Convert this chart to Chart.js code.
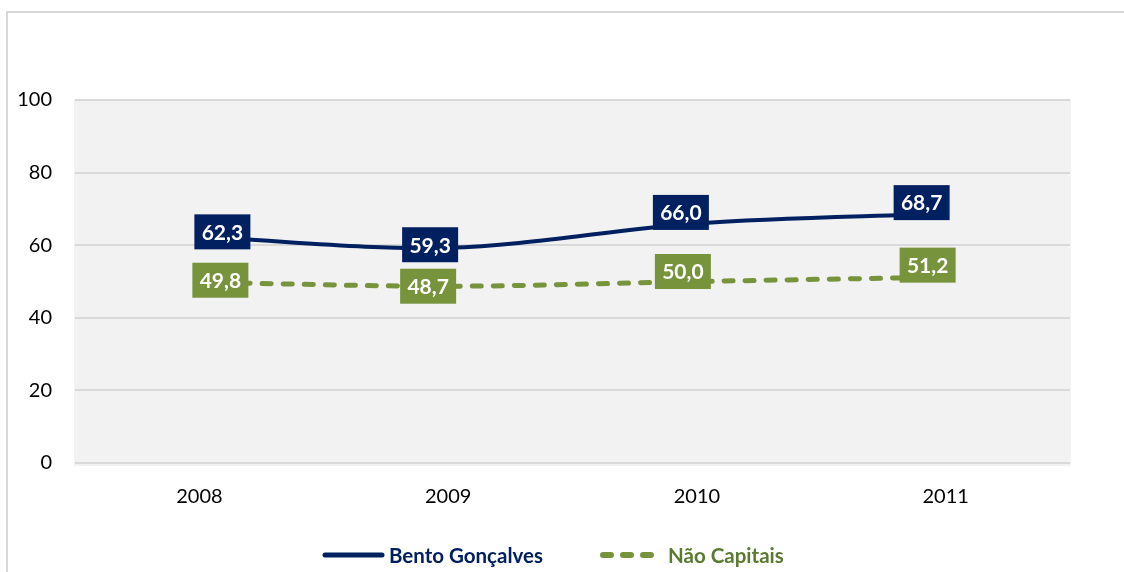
<!DOCTYPE html>
<html>
<head>
<meta charset="utf-8">
<script src="https://cdn.jsdelivr.net/npm/chart.js@4/dist/chart.umd.min.js"></script>
<style>
    html, body { margin: 0; padding: 0; background: #ffffff; }
    #chart { display: block; }
</style>
</head>
<body>
<canvas id="chart" width="1124" height="572"></canvas>
<script>
const years = ['2008', '2009', '2010', '2011'];
const bentoGoncalves = [62.3, 59.3, 66.0, 68.7];
const naoCapitais = [49.8, 48.7, 50.0, 51.2];
const seriesNames = ['Bento Gonçalves', 'Não Capitais'];

// where each value box sits relative to its point (as placed in the original)
const bentoShift = [[23, -5], [-18, -3], [-16, -11], [-24, -11]];
const naoShift = [[21, -2], [-20, 0], [-14, -10], [-18, -12]];

const navy = '#002060';
const olive = '#77933C';
const fontFamily = 'Lato, "Open Sans", sans-serif';

const frame = {
    id: 'frame',
    beforeDraw(chart) {
        const ctx = chart.ctx;
        const a = chart.chartArea;
        ctx.save();
        ctx.strokeStyle = '#D9D9D9';
        ctx.lineWidth = 2;
        ctx.beginPath();
        ctx.moveTo(7, 572);
        ctx.lineTo(7, 12);
        ctx.lineTo(1124, 12);
        ctx.stroke();
        ctx.fillStyle = '#F2F2F2';
        ctx.fillRect(a.left - 1, a.top - 1, a.right - a.left + 2, a.bottom - a.top + 4);
        ctx.restore();
    }
};

const valueBoxes = {
    id: 'valueBoxes',
    afterDatasetsDraw(chart) {
        const ctx = chart.ctx;
        const shifts = [bentoShift, naoShift];
        ctx.save();
        ctx.font = 'bold 21px ' + fontFamily;
        ctx.textAlign = 'center';
        ctx.textBaseline = 'middle';
        chart.data.datasets.forEach((ds, i) => {
            const meta = chart.getDatasetMeta(i);
            meta.data.forEach((pt, j) => {
                const cx = pt.x + shifts[i][j][0];
                const cy = pt.y + shifts[i][j][1];
                ctx.fillStyle = ds.borderColor;
                ctx.fillRect(cx - 28, cy - 17.5, 56, 35);
                ctx.fillStyle = '#ffffff';
                ctx.fillText(ds.data[j].toFixed(1).replace('.', ','), cx, cy + 1);
            });
        });
        ctx.restore();
    }
};

// legend drawn by hand so the sample lengths and spacing follow the original
const bottomLegend = {
    id: 'bottomLegend',
    afterDraw(chart) {
        const ctx = chart.ctx;
        const y = 555;
        const items = [
            { x: 322, w: 63, gap: 4, color: navy, text: '#002060', dash: [], width: 5 },
            { x: 600, w: 56, gap: 12, color: olive, text: '#5B7A31', dash: [8, 12], width: 6 }
        ];
        ctx.save();
        ctx.font = 'bold 20.5px ' + fontFamily;
        ctx.textBaseline = 'middle';
        ctx.textAlign = 'left';
        chart.data.datasets.forEach((ds, i) => {
            const it = items[i];
            ctx.strokeStyle = it.color;
            ctx.lineWidth = it.width;
            ctx.lineCap = 'round';
            ctx.setLineDash(it.dash);
            ctx.beginPath();
            ctx.moveTo(it.x + 3, y);
            ctx.lineTo(it.x + it.w - 3, y);
            ctx.stroke();
            ctx.fillStyle = it.text;
            ctx.fillText(ds.label, it.x + it.w + it.gap, y + 1);
        });
        ctx.restore();
    }
};

const config = {
    type: 'line',
    data: {
        labels: years,
        datasets: [
            {
                label: seriesNames[0],
                data: bentoGoncalves,
                borderColor: navy,
                backgroundColor: navy,
                borderWidth: 4,
                tension: 0.33,
                pointRadius: 0,
                borderCapStyle: 'round'
            },
            {
                label: seriesNames[1],
                data: naoCapitais,
                borderColor: olive,
                backgroundColor: olive,
                borderWidth: 5,
                borderDash: [9, 12],
                borderCapStyle: 'round',
                tension: 0.33,
                pointRadius: 0
            }
        ]
    },
    options: {
        responsive: false,
        animation: false,
        layout: {
            padding: { left: 8, top: 100, right: 54, bottom: 0 }
        },
        plugins: {
            tooltip: { enabled: false },
            legend: { display: false }
        },
        scales: {
            x: {
                offset: true,
                grid: { display: false },
                border: { display: false },
                ticks: {
                    color: '#000000',
                    padding: 14,
                    font: { family: fontFamily, size: 20 }
                },
                afterFit: (s) => { s.height = 109; }
            },
            y: {
                min: 0,
                max: 100,
                ticks: {
                    stepSize: 20,
                    color: '#000000',
                    padding: 23,
                    font: { family: fontFamily, size: 20 }
                },
                grid: { color: '#D9D9D9', lineWidth: 2, drawTicks: false },
                border: { display: false },
                afterFit: (s) => { s.width = 67; }
            }
        }
    },
    plugins: [frame, valueBoxes, bottomLegend]
};

const chart = new Chart(document.getElementById('chart').getContext('2d'), config);
</script>
</body>
</html>
